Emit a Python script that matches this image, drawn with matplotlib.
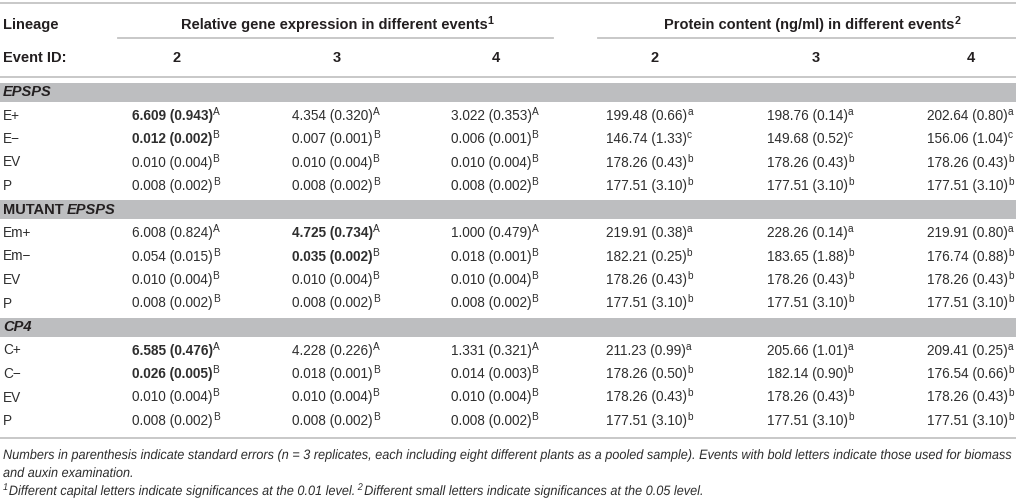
import matplotlib
matplotlib.use('Agg')
import matplotlib.pyplot as plt
from matplotlib import font_manager
from matplotlib.font_manager import FontProperties
from matplotlib.textpath import TextPath
from matplotlib.patches import PathPatch
from matplotlib.transforms import Affine2D

# table content
groups = ['EPSPS', 'MUTANT EPSPS', 'CP4']
lineages = [['E+', 'E\u2212', 'EV', 'P'],
            ['Em+', 'Em\u2212', 'EV', 'P'],
            ['C+', 'C\u2212', 'EV', 'P']]
event_ids = ['2', '3', '4']

gene_mean = [[[6.609, 4.354, 3.022], [0.012, 0.007, 0.006], [0.010, 0.010, 0.010], [0.008, 0.008, 0.008]],
             [[6.008, 4.725, 1.000], [0.054, 0.035, 0.018], [0.010, 0.010, 0.010], [0.008, 0.008, 0.008]],
             [[6.585, 4.228, 1.331], [0.026, 0.018, 0.014], [0.010, 0.010, 0.010], [0.008, 0.008, 0.008]]]
gene_se = [[[0.943, 0.320, 0.353], [0.002, 0.001, 0.001], [0.004, 0.004, 0.004], [0.002, 0.002, 0.002]],
           [[0.824, 0.734, 0.479], [0.015, 0.002, 0.001], [0.004, 0.004, 0.004], [0.002, 0.002, 0.002]],
           [[0.476, 0.226, 0.321], [0.005, 0.001, 0.003], [0.004, 0.004, 0.004], [0.002, 0.002, 0.002]]]
gene_letter = [['A', 'B', 'B', 'B'], ['A', 'B', 'B', 'B'], ['A', 'B', 'B', 'B']]
# which event column is bold (used for biomass/auxin), per group
bold_col = [0, 1, 0]

prot_mean = [[[199.48, 198.76, 202.64], [146.74, 149.68, 156.06], [178.26, 178.26, 178.26], [177.51, 177.51, 177.51]],
             [[219.91, 228.26, 219.91], [182.21, 183.65, 176.74], [178.26, 178.26, 178.26], [177.51, 177.51, 177.51]],
             [[211.23, 205.66, 209.41], [178.26, 182.14, 176.54], [178.26, 178.26, 178.26], [177.51, 177.51, 177.51]]]
prot_se = [[[0.66, 0.14, 0.80], [1.33, 0.52, 1.04], [0.43, 0.43, 0.43], [3.10, 3.10, 3.10]],
           [[0.38, 0.14, 0.80], [0.25, 1.88, 0.88], [0.43, 0.43, 0.43], [3.10, 3.10, 3.10]],
           [[0.99, 1.01, 0.25], [0.50, 0.90, 0.66], [0.43, 0.43, 0.43], [3.10, 3.10, 3.10]]]
prot_letter = [['a', 'c', 'b', 'b'], ['a', 'b', 'b', 'b'], ['a', 'b', 'b', 'b']]

note1 = ('Numbers in parenthesis indicate standard errors (n = 3 replicates, each including eight different '
         'plants as a pooled sample). Events with bold letters indicate those used for biomass')
note2 = 'and auxin examination.'
note3a = 'Different capital letters indicate significances at the 0.01 level.'
note3b = 'Different small letters indicate significances at the 0.05 level.'

W, H = 1016, 499
FS = 10.5      # headers
FSD = 9.8      # body
TXT = '#231f20'
BODY = '#2e2e2e'
RULE = '#c4c4c4'
BAND = '#bdbec0'

names = {f.name for f in font_manager.fontManager.ttflist}
MAIN = 'Liberation Sans' if 'Liberation Sans' in names else 'DejaVu Sans'
plt.rcParams['font.family'] = [MAIN, 'DejaVu Sans']

fig = plt.figure(figsize=(W / 100, H / 100), dpi=100)
ax = fig.add_axes([0, 0, 1, 1])
ax.set_xlim(0, W)
ax.set_ylim(H, 0)
ax.axis('off')
rend = fig.canvas.get_renderer()


def runs(x, y, parts, ha='left', size=FS, color=TXT):
    # draw a line made of several styled pieces; y is the text middle
    made = []
    cur = x
    for p in parts:
        kw = dict(color=color, fontsize=size * p.get('scale', 1.0),
                  fontweight=p.get('weight', 'normal'), fontstyle=p.get('style', 'normal'))
        cur += p.get('gap', 0)
        t = ax.text(cur, y + 4 + p.get('dy', 0), p['s'], va='baseline', ha='left', **kw)
        made.append(t)
        cur += t.get_window_extent(rend).width
    if ha == 'center':
        shift = (cur - x) / 2
        for t in made:
            px, py = t.get_position()
            t.set_position((px - shift, py))
    return cur


def sup(s, weight='normal'):
    return dict(s=s, scale=0.74, dy=-5, weight=weight)


# condensed italic for the notes: glyph outlines squeezed horizontally
NOTE_PX = 13.6
note_prop = FontProperties(family=MAIN, style='italic')
w1 = TextPath((0, 0), note1, size=NOTE_PX, prop=note_prop).get_extents().width
SX = 1008 / w1


def note_runs(x, base, parts):
    cur = x
    for p in parts:
        cur += p.get('gap', 0)
        tp = TextPath((0, 0), p['s'], size=NOTE_PX * p.get('scale', 1.0), prop=note_prop)
        tr = Affine2D().scale(SX, -1).translate(cur, base + p.get('dy', 0))
        ax.add_patch(PathPatch(tr.transform_path(tp), color=BODY, lw=0))
        cur += tp.get_extents().x1 * SX


# column layout (pixels)
lin_x = 3
col_x = [132, 292, 451, 606, 767, 927]
col_w = [90, 90, 90, 97, 97, 88]

# rules and header
ax.plot([0, W], [3, 3], color=RULE, lw=1.3)
runs(lin_x, 25, [dict(s='Lineage', weight='bold')])
runs(337, 25, [dict(s='Relative gene expression in different events', weight='bold'), sup('1', 'bold')], ha='center')
runs(812, 25, [dict(s='Protein content (ng/ml) in different events', weight='bold'), sup('2', 'bold')], ha='center')
ax.plot([118, 553], [38, 38], color=RULE, lw=1.3)
ax.plot([598, W], [38, 38], color=RULE, lw=1.3)
runs(lin_x, 58, [dict(s='Event ID:', weight='bold')])
for k in range(6):
    runs(col_x[k] + col_w[k] / 2, 58, [dict(s=event_ids[k % 3], weight='bold')], ha='center')
ax.plot([0, W], [77, 77], color=RULE, lw=1.3)

# body
y = 92
pitch = 23.5
for g in range(3):
    ax.add_patch(plt.Rectangle((0, y - 9.5), W, 19, color=BAND, lw=0))
    if ' ' in groups[g]:
        a, b = groups[g].split(' ')
        runs(lin_x, y, [dict(s=a, weight='bold'), dict(s=b, weight='bold', style='italic', gap=3)])
    else:
        runs(lin_x, y, [dict(s=groups[g], weight='bold', style='italic')])
    y += pitch
    for r in range(4):
        runs(lin_x, y, [dict(s=lineages[g][r])], size=FSD, color=BODY)
        for c in range(3):
            wt = 'bold' if (c == bold_col[g] and r < 2) else 'normal'
            runs(col_x[c], y, [dict(s='%.3f (%.3f)' % (gene_mean[g][r][c], gene_se[g][r][c]), weight=wt),
                               sup(gene_letter[g][r])], size=FSD, color=BODY)
            runs(col_x[c + 3], y, [dict(s='%.2f (%.2f)' % (prot_mean[g][r][c], prot_se[g][r][c])),
                                   sup(prot_letter[g][r])], size=FSD, color=BODY)
        y += pitch

ax.plot([0, W], [438, 438], color=RULE, lw=1.3)

# footnotes
note_runs(lin_x, 459, [dict(s=note1)])
note_runs(lin_x, 477, [dict(s=note2)])
note_runs(lin_x, 495, [dict(s='1', scale=0.72, dy=-5),
                       dict(s=note3a, gap=1.5),
                       dict(s='2', scale=0.72, dy=-5, gap=4),
                       dict(s=note3b, gap=1.5)])

fig.savefig('out.png', dpi=100)
